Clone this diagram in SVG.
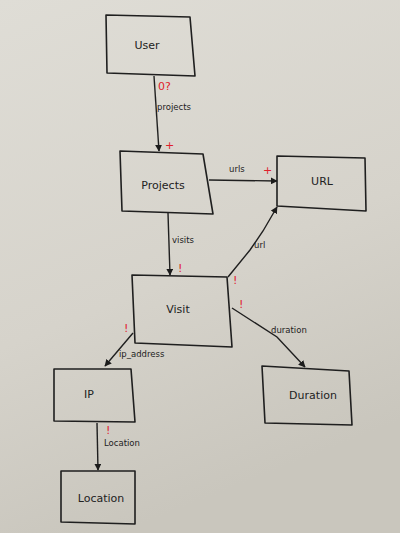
<svg xmlns="http://www.w3.org/2000/svg" width="400" height="533" viewBox="0 0 400 533">
<defs>
<linearGradient id="paper" x1="0" y1="0" x2="0.3" y2="1">
<stop offset="0" stop-color="#dfddd6"/>
<stop offset="0.6" stop-color="#d6d3cb"/>
<stop offset="1" stop-color="#c9c6bd"/>
</linearGradient>
<marker id="arr" viewBox="0 0 10 10" refX="9" refY="5" markerWidth="7" markerHeight="7" orient="auto" markerUnits="userSpaceOnUse">
<path d="M0,0 L10,5 L0,10 Z" fill="#1c1c1c"/>
</marker>
<style>
.box{fill:none;stroke:#1f1f1f;stroke-width:1.6;stroke-linejoin:round}
.edge{fill:none;stroke:#1f1f1f;stroke-width:1.4;marker-end:url(#arr)}
.nl{font-family:"DejaVu Sans",sans-serif;font-size:11px;fill:#222;text-anchor:middle}
.el{font-family:"DejaVu Sans",sans-serif;font-size:8.5px;fill:#222}
.red{font-family:"DejaVu Sans",sans-serif;font-size:11px;fill:#e0202a}
</style>
</defs>
<rect width="400" height="533" fill="url(#paper)"/>
<g id="connectors">
<g id="e-projects"><path class="edge" d="M154,76 L159,151"/><text class="el" x="157" y="110">projects</text><text class="red" x="158" y="90">0?</text><text class="red" x="165" y="149" font-size="10">+</text></g>
<g id="e-urls"><path class="edge" d="M209,180 L277,181"/><text class="el" x="229" y="172">urls</text><text class="red" x="263" y="174">+</text></g>
<g id="e-visits"><path class="edge" d="M168,213 L170,275"/><text class="el" x="172" y="243">visits</text><text class="red" x="178" y="272">!</text></g>
<g id="e-url"><path class="edge" d="M228,277 L250,250 L263,231 L277,207"/><text class="el" x="254" y="248">url</text><text class="red" x="233" y="284">!</text><text class="red" x="239" y="308">!</text></g>
<g id="e-duration"><path class="edge" d="M232,308 L277,337 L305,367"/><text class="el" x="271" y="333">duration</text></g>
<g id="e-ip"><path class="edge" d="M133,333 L105,366"/><text class="el" x="119" y="357">ip_address</text><text class="red" x="124" y="332">!</text></g>
<g id="e-location"><path class="edge" d="M97,423 L98,470"/><text class="el" x="104" y="446">Location</text><text class="red" x="106" y="434" font-size="10">!</text></g>
</g>
<g id="User"><polygon class="box" points="106,15 190,17 195,76 107,73"/><text class="nl" x="147" y="49">User</text></g>
<g id="Projects"><polygon class="box" points="120,151 203,154 213,214 122,211"/><text class="nl" x="163" y="189">Projects</text></g>
<g id="URL"><polygon class="box" points="277,156 365,158 366,211 277,206"/><text class="nl" x="322" y="185">URL</text></g>
<g id="Visit"><polygon class="box" points="132,275 227,277 232,347 135,343"/><text class="nl" x="178" y="313">Visit</text></g>
<g id="Duration"><polygon class="box" points="262,366 349,371 352,425 265,423"/><text class="nl" x="313" y="399">Duration</text></g>
<g id="IP"><polygon class="box" points="54,369 131,369 135,422 54,421"/><text class="nl" x="89" y="398">IP</text></g>
<g id="Location"><polygon class="box" points="61,471 135,471 135,524 61,522"/><text class="nl" x="101" y="502">Location</text></g>
</svg>
